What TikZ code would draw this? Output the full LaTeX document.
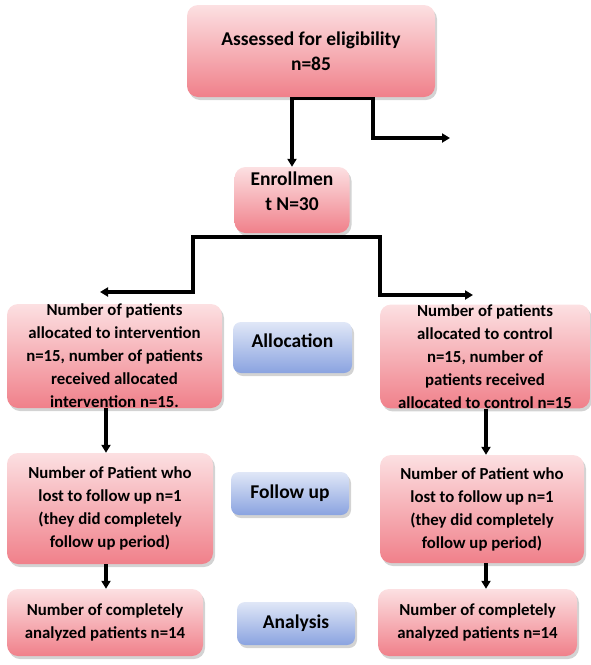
\documentclass[tikz,border=0pt]{standalone}
\usepackage{fontspec}
\setmainfont{Carlito}
\usetikzlibrary{arrows.meta,shadows,calc}
\definecolor{pinkT}{RGB}{252,224,226}
\definecolor{pinkB}{RGB}{240,128,138}
\definecolor{blueT}{RGB}{224,231,247}
\definecolor{blueB}{RGB}{138,163,224}
\begin{document}
\begin{tikzpicture}[x=1pt,y=-1pt,
  pinkbox/.style={rounded corners=11pt, top color=pinkT, bottom color=pinkB, draw=none,
    drop shadow={shadow xshift=2pt,shadow yshift=-3pt,opacity=0.35},
    align=center, inner sep=0pt, font=\bfseries\fontsize{16.8}{23}\selectfont},
  bigtext/.style={font=\bfseries\fontsize{19.5}{25}\selectfont},
  bluebox/.style={rounded corners=8pt, top color=blueT, bottom color=blueB, draw=none,
    drop shadow={shadow xshift=2pt,shadow yshift=-3pt,opacity=0.35},
    align=center, inner sep=0pt, font=\bfseries\fontsize{19.5}{23}\selectfont},
  conn/.style={line width=3.2pt, black},
  arr/.style={conn, -{Triangle[length=8pt,width=9pt]}},
  arrs/.style={conn, {Triangle[length=8pt,width=9pt]}-{Triangle[length=8pt,width=9pt]}}
]
\useasboundingbox (0,0) rectangle (591,665);

% nodes
\node[pinkbox, bigtext, minimum width=248pt, minimum height=92pt] (A) at (311,51)
  {Assessed for eligibility\\n=85};
\node[pinkbox, bigtext, minimum width=115pt, minimum height=66pt] (E) at (292,200)
  {Enrollmen\\t N=30\rule[-18pt]{0pt}{18pt}};

\node[pinkbox, minimum width=215pt, minimum height=104pt] (L1) at (114.5,356)
  {Number of patients\\allocated to intervention\\n=15, number of patients\\received allocated\\intervention n=15.};
\node[bluebox, minimum width=119pt, minimum height=51pt] (AL) at (292.5,347.5)
  {Allocation\rule[-14pt]{0pt}{14pt}};
\node[pinkbox, minimum width=210pt, minimum height=103pt] (R1) at (485,356.5)
  {Number of patients\\allocated to control\\n=15, number of\\patients received\\allocated to control n=15};

\node[pinkbox, minimum width=206pt, minimum height=111pt] (L2) at (110,508.5)
  {Number of Patient who\\lost to follow up n=1\\(they did completely\\follow up period)};
\node[bluebox, minimum width=118pt, minimum height=43pt] (FU) at (290,493.5)
  {Follow up};
\node[pinkbox, minimum width=204pt, minimum height=108pt] (R2) at (482,509)
  {Number of Patient who\\lost to follow up n=1\\(they did completely\\follow up period)};

\node[pinkbox, minimum width=196pt, minimum height=67pt] (L3) at (105,622.5)
  {Number of completely\\analyzed patients n=14};
\node[bluebox, minimum width=118pt, minimum height=43pt] (AN) at (296,623.5)
  {Analysis};
\node[pinkbox, minimum width=199pt, minimum height=67pt] (R3) at (477.5,622.5)
  {Number of completely\\analyzed patients n=14};

% helper coordinates
\coordinate (jx) at (373,0);
\coordinate (exc) at (450,138);
\coordinate (tL) at (193,237);
\coordinate (tR) at (380,237);
\coordinate (eL) at (100,292);
\coordinate (eR) at (473,295);
\coordinate (cL) at (106,0);
\coordinate (cR) at (486,0);

% connectors
\draw[arrs] (E.north) -- ([yshift=-1pt]A.south -| E.north) -- ([yshift=-1pt]A.south -| jx) |- (exc);
\draw[arrs] (eL) -| (tL) -- (tR) |- (eR);
\draw[arr] (L1.south -| cL) -- (L2.north -| cL);
\draw[arr] (L2.south -| cL) -- (L3.north -| cL);
\draw[arr] (R1.south -| cR) -- (R2.north -| cR);
\draw[arr] (R2.south -| cR) -- (R3.north -| cR);
\end{tikzpicture}
\end{document}
